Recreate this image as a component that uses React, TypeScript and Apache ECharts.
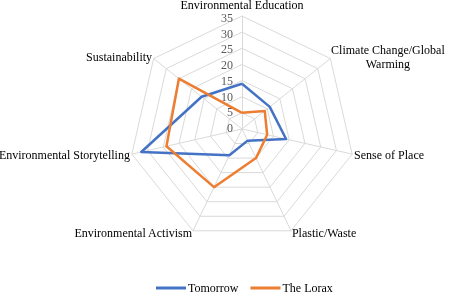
import React, { useEffect, useRef } from "react";
import * as echarts from "echarts";

const categories = [
  "Environmental Education",
  "Climate Change/Global\nWarming",
  "Sense of Place",
  "Plastic/Waste",
  "Environmental Activism",
  "Environmental Storytelling",
  "Sustainability",
];
const tomorrow = [14, 11, 14, 4, 9, 32, 16];
const lorax = [5, 9, 8, 10, 20, 24, 25];
const ticks = [0, 5, 10, 15, 20, 25, 30, 35];

// ECharts lays radar indicators counter-clockwise; Excel lays them clockwise.
const order = [0, 6, 5, 4, 3, 2, 1];

export default function App() {
  const ref = useRef<HTMLDivElement>(null);
  useEffect(() => {
    const chart = echarts.init(ref.current!, null, { renderer: "svg" });
    const font = "Liberation Serif";
    chart.setOption({
      animation: false,
      textStyle: { fontFamily: font },
      legend: {
        bottom: 0,
        left: 156,
        padding: 0,
        itemWidth: 30,
        itemHeight: 3,
        itemGap: 12,
        icon: "rect",
        textStyle: { fontFamily: font, fontSize: 12, color: "#000", padding: [0, 0, 0, -3] },
        data: ["Tomorrow", "The Lorax"],
      },
      grid: { left: 242, top: 18, width: 1, height: 110 },
      xAxis: { type: "value", show: false },
      yAxis: {
        type: "value",
        min: 0,
        max: 35,
        interval: 5,
        axisLine: { show: false },
        axisTick: { show: false },
        splitLine: { show: false },
        axisLabel: {
          margin: 9,
          color: "#595959",
          fontFamily: font,
          fontSize: 12,
          formatter: (v: number) => (ticks.includes(v) ? String(v) : ""),
        },
      },
      radar: {
        center: [242, 129],
        radius: 113,
        startAngle: 90,
        splitNumber: 7,
        shape: "polygon",
        nameGap: 2,
        axisName: {
          color: "#000",
          fontFamily: font,
          fontSize: 12,
          formatter: (name: string) => {
            if (name.includes("\n")) {
              return name
                .split("\n")
                .map((l) => `{c|${l}}`)
                .join("\n");
            }
            if (name === categories[0]) return `{t|${name}}`;
            return name;
          },
          rich: {
            c: {
              width: 112,
              align: "center",
              lineHeight: 14,
              fontFamily: font,
              fontSize: 12,
              color: "#000",
            },
            t: {
              padding: [0, 0, 3, 0],
              fontFamily: font,
              fontSize: 12,
              color: "#000",
            },
          },
        },
        indicator: order.map((i) => ({ name: categories[i], min: 0, max: 35 })),
        splitLine: { lineStyle: { color: "#d9d9d9", width: 1 } },
        axisLine: { lineStyle: { color: "#d9d9d9", width: 1 } },
        splitArea: { show: false },
        axisLabel: { show: false },
      },
      series: [
        {
          type: "radar",
          symbol: "none",
          data: [
            {
              name: "Tomorrow",
              value: order.map((i) => tomorrow[i]),
              lineStyle: { color: "#4472C4", width: 2.5 },
              itemStyle: { color: "#4472C4" },
            },
            {
              name: "The Lorax",
              value: order.map((i) => lorax[i]),
              lineStyle: { color: "#ED7D31", width: 2.5 },
              itemStyle: { color: "#ED7D31" },
            },
          ],
        },
      ],
    });
    return () => chart.dispose();
  }, []);
  return (
    <div
      ref={ref}
      style={{ position: "fixed", left: 0, top: 0, width: 450, height: 294 }}
    />
  );
}
